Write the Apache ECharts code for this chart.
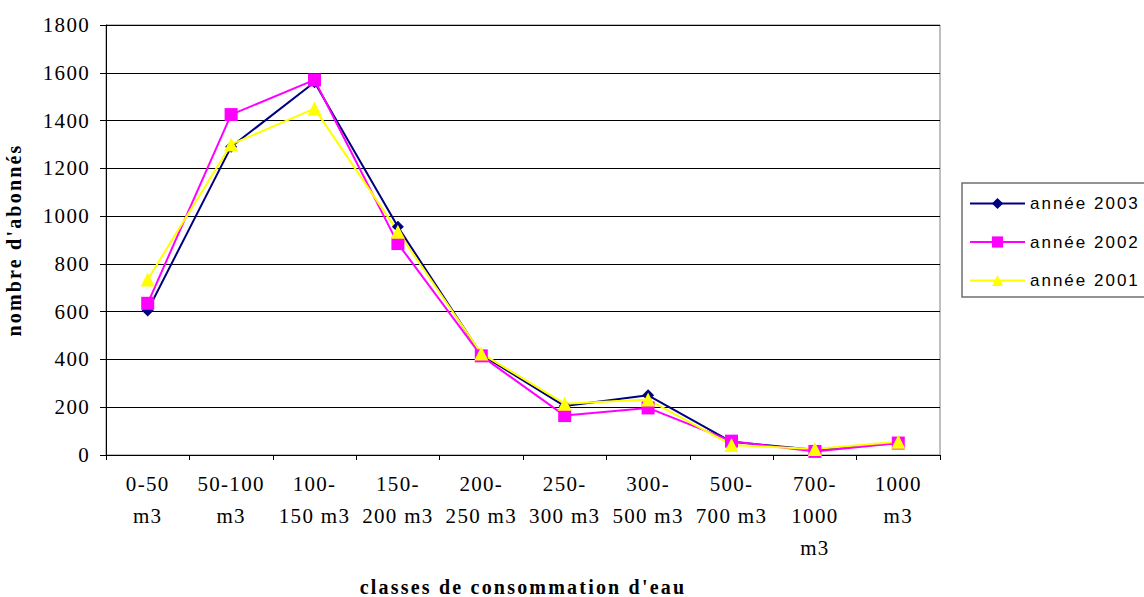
<!DOCTYPE html>
<html>
<head>
<meta charset="utf-8">
<script src="https://cdn.jsdelivr.net/npm/echarts@6/dist/echarts.min.js"></script>
<style>
html,body{margin:0;padding:0;background:#fff;}
#chart{width:1144px;height:597px;}
svg text{letter-spacing:1.3px;}
svg text[style*="bold"], svg text[font-weight="bold"]{letter-spacing:2.2px;}
svg text[style*="Liberation Sans"], svg text[font-family*="Liberation Sans"]{letter-spacing:2px;}
</style>
</head>
<body>
<div id="chart"></div>
<script>
const categories = ['0-50\nm3','50-100\nm3','100-\n150 m3','150-\n200 m3','200-\n250 m3','250-\n300 m3','300-\n500 m3','500-\n700 m3','700-\n1000\nm3','1000\nm3'];
const seriesNames = ['année 2003','année 2002','année 2001'];
const y2003 = [605,1290,1560,955,420,205,250,55,22,50];
const y2002 = [635,1425,1570,885,415,165,197,58,15,50];
const y2001 = [735,1300,1450,935,425,215,232,42,25,55];
const yTicks = {min:0, max:1800, interval:200};
const xTitle = "classes de consommation d'eau";
const yTitle = "nombre d'abonnés";

const chart = echarts.init(document.getElementById('chart'), null, {renderer:'svg'});
const serif = "'Liberation Serif','Times New Roman',serif";
const sans = "'Liberation Sans',Arial,sans-serif";
function mk(name, data, color, symbol, size){
  return {name:name, type:'line', data:data, symbol:symbol, symbolSize:size,
    showAllSymbol:true, lineStyle:{color:color,width:2}, itemStyle:{color:color},
    emphasis:{disabled:true}, animation:false};
}
chart.setOption({
  animation:false,
  backgroundColor:'#fff',
  grid:{left:106, right:204, top:25, bottom:142, show:true, borderColor:'#808080', borderWidth:1,
    containLabel:false, outerBoundsMode:'none'},
  xAxis:{type:'category', data:categories, boundaryGap:true,
    axisLine:{lineStyle:{color:'#000',width:1}},
    axisTick:{show:true, alignWithLabel:false, length:5, lineStyle:{color:'#000'}},
    axisLabel:{interval:0, color:'#000', fontFamily:serif, fontSize:21, lineHeight:32, margin:13},
    name:xTitle, nameLocation:'middle', nameGap:122,
    nameTextStyle:{fontFamily:serif, fontWeight:'bold', fontSize:20, color:'#000'}
  },
  yAxis:{type:'value', min:yTicks.min, max:yTicks.max, interval:yTicks.interval,
    axisLine:{show:true, lineStyle:{color:'#000',width:1}},
    axisTick:{show:true, length:6, lineStyle:{color:'#000'}},
    splitLine:{lineStyle:{color:'#000',width:1}},
    axisLabel:{color:'#000', fontFamily:serif, fontSize:21, margin:16, formatter:function(v){return String(v);}},
    name:yTitle, nameLocation:'middle', nameGap:82, nameRotate:90,
    nameTextStyle:{fontFamily:serif, fontWeight:'bold', fontSize:20, color:'#000'}
  },
  legend:{orient:'vertical', left:962, top:183, data:seriesNames,
    padding:[12,60,8,7], itemGap:21.5, itemWidth:55, itemHeight:14,
    borderColor:'#707070', borderWidth:1.5, backgroundColor:'#fff',
    textStyle:{fontFamily:sans, fontSize:17, color:'#000', padding:[0,0,0,0]},
    selectedMode:false
  },
  series:[
    mk(seriesNames[0], y2003, '#000080', 'diamond', 12),
    mk(seriesNames[1], y2002, '#FF00FF', 'rect', 13),
    mk(seriesNames[2], y2001, '#FFFF00', 'triangle', 14)
  ]
});
</script>
</body>
</html>
